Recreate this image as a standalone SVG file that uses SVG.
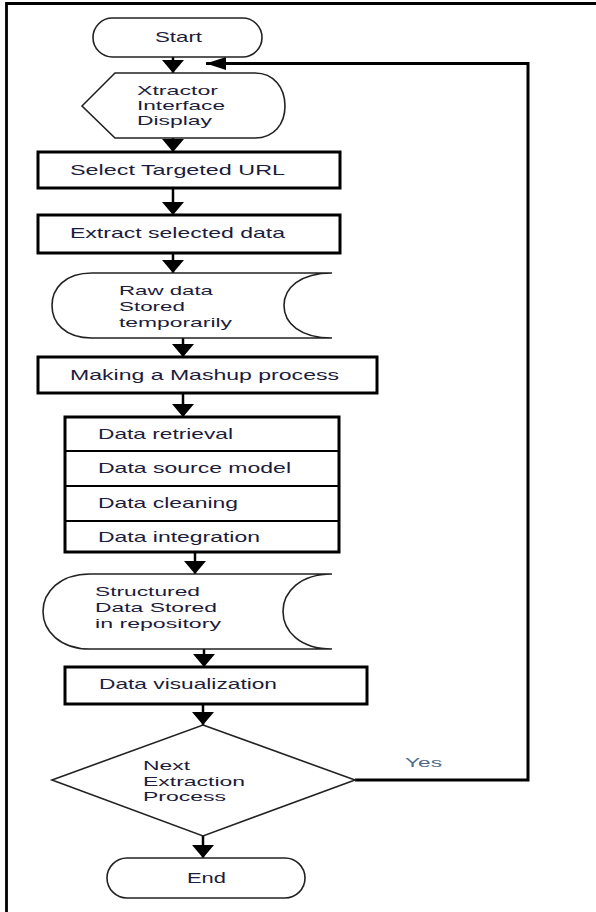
<svg xmlns="http://www.w3.org/2000/svg" width="596" height="912" viewBox="0 0 596 912">
<defs>
<style>
.t{font-family:"Liberation Sans",Arial,sans-serif;font-size:15px;fill:#1c1c3c;}
.m{font-family:"Liberation Sans",Arial,sans-serif;font-size:13.2px;fill:#1c1c3c;}
.y{font-family:"Liberation Sans",Arial,sans-serif;font-size:13px;fill:#4f6a8f;}
.thin{fill:#fff;stroke:#222;stroke-width:1.6;}
.box{fill:#fff;stroke:#000;stroke-width:3;}
.div{stroke:#000;stroke-width:2;fill:none;}
.c{stroke:#000;stroke-width:2.5;fill:none;marker-end:url(#ah);}
.cl{stroke:#000;stroke-width:3;fill:none;marker-end:url(#ahl);}
.loop{stroke:#000;stroke-width:3;fill:none;}
</style>
<marker id="ah" markerUnits="userSpaceOnUse" markerWidth="14" markerHeight="22" viewBox="0 0 14 22" refX="13" refY="11" orient="auto">
<path d="M0,0 L13,11 L0,22 Z" fill="#000"/>
</marker>
<marker id="ahl" markerUnits="userSpaceOnUse" markerWidth="21" markerHeight="13" viewBox="0 0 21 13" refX="20" refY="6.5" orient="auto">
<path d="M0,0 L20,6.5 L0,13 Z" fill="#000"/>
</marker>
</defs>
<rect width="596" height="912" fill="#fff"/>
<g id="frame">
<path d="M6.5,912 L6.5,3.5 L596,3.5" fill="none" stroke="#000" stroke-width="2.8"/>
</g>
<g id="connectors">
<line class="c" x1="173" y1="57" x2="173" y2="73"/>
<line class="c" x1="173" y1="138" x2="173" y2="152"/>
<line class="c" x1="173" y1="188" x2="173" y2="215"/>
<line class="c" x1="173" y1="253" x2="173" y2="273"/>
<line class="c" x1="183" y1="338" x2="183" y2="357"/>
<line class="c" x1="183" y1="393" x2="183" y2="417"/>
<line class="c" x1="195" y1="552" x2="195" y2="574"/>
<line class="c" x1="204" y1="649" x2="204" y2="667"/>
<line class="c" x1="203" y1="704" x2="203" y2="725"/>
<line class="c" x1="203" y1="836" x2="203" y2="858"/>
<path class="loop" d="M355,780 L528,780 L528,63.5 L225,63.5"/>
<line class="cl" x1="230" y1="63.5" x2="206" y2="63.5"/>
<text class="y" x="405" y="767" textLength="37" lengthAdjust="spacingAndGlyphs">Yes</text>
</g>
<g id="start">
<rect class="thin" x="93" y="18" width="169" height="39" rx="19.5"/>
<text class="t" x="155" y="42" textLength="47" lengthAdjust="spacingAndGlyphs">Start</text>
</g>
<g id="display">
<path class="thin" d="M82,106 L115,73 L255,73 C274,73 285,88 285,106 C285,124 274,138 255,138 L115,138 Z"/>
<text class="m" x="137" y="95" textLength="81" lengthAdjust="spacingAndGlyphs">Xtractor</text>
<text class="m" x="137" y="110" textLength="88" lengthAdjust="spacingAndGlyphs">Interface</text>
<text class="m" x="137" y="125" textLength="75" lengthAdjust="spacingAndGlyphs">Display</text>
</g>
<g id="url">
<rect class="box" x="38" y="152" width="302" height="36"/>
<text class="t" x="70" y="175" textLength="215" lengthAdjust="spacingAndGlyphs">Select Targeted URL</text>
</g>
<g id="extract">
<rect class="box" x="38" y="215" width="302" height="38"/>
<text class="t" x="70" y="238" textLength="215" lengthAdjust="spacingAndGlyphs">Extract selected data</text>
</g>
<g id="raw">
<path class="thin" d="M92,273 L332,273 C300,273 284,288 284,305.5 C284,323 300,338 332,338 L92,338 C64,338 52,322 52,305.5 C52,289 64,273 92,273 Z"/>
<text class="m" x="119" y="295" textLength="94" lengthAdjust="spacingAndGlyphs">Raw data</text>
<text class="m" x="119" y="311" textLength="66" lengthAdjust="spacingAndGlyphs">Stored</text>
<text class="m" x="119" y="327" textLength="113" lengthAdjust="spacingAndGlyphs">temporarily</text>
</g>
<g id="mashup">
<rect class="box" x="38" y="357" width="339" height="36"/>
<text class="t" x="70" y="380" textLength="269" lengthAdjust="spacingAndGlyphs">Making a Mashup process</text>
</g>
<g id="steps">
<rect class="box" x="65" y="417" width="274" height="135"/>
<line class="div" x1="65" y1="451" x2="339" y2="451"/>
<line class="div" x1="65" y1="486" x2="339" y2="486"/>
<line class="div" x1="65" y1="521" x2="339" y2="521"/>
<text class="t" x="98" y="439" textLength="135" lengthAdjust="spacingAndGlyphs">Data retrieval</text>
<text class="t" x="98" y="473" textLength="193" lengthAdjust="spacingAndGlyphs">Data source model</text>
<text class="t" x="98" y="508" textLength="140" lengthAdjust="spacingAndGlyphs">Data cleaning</text>
<text class="t" x="98" y="542" textLength="162" lengthAdjust="spacingAndGlyphs">Data integration</text>
</g>
<g id="structured">
<path class="thin" d="M90,574 L332,574 C300,574 283,592 283,611.5 C283,631 300,649 332,649 L90,649 C60,649 43,631 43,611.5 C43,592 60,574 90,574 Z"/>
<text class="m" x="95" y="596" textLength="105" lengthAdjust="spacingAndGlyphs">Structured</text>
<text class="m" x="95" y="612" textLength="122" lengthAdjust="spacingAndGlyphs">Data Stored</text>
<text class="m" x="95" y="628" textLength="126" lengthAdjust="spacingAndGlyphs">in repository</text>
</g>
<g id="visualization">
<rect class="box" x="65" y="667" width="302" height="37"/>
<text class="t" x="99" y="689" textLength="178" lengthAdjust="spacingAndGlyphs">Data visualization</text>
</g>
<g id="decision">
<path class="thin" d="M203,725 L355,780 L203,836 L52,780 Z"/>
<text class="m" x="143" y="770" textLength="47" lengthAdjust="spacingAndGlyphs">Next</text>
<text class="m" x="143" y="786" textLength="102" lengthAdjust="spacingAndGlyphs">Extraction</text>
<text class="m" x="143" y="801" textLength="83" lengthAdjust="spacingAndGlyphs">Process</text>
</g>
<g id="end">
<rect class="thin" x="107" y="858" width="198" height="40" rx="20"/>
<text class="t" x="187" y="883" textLength="39" lengthAdjust="spacingAndGlyphs">End</text>
</g>
</svg>
